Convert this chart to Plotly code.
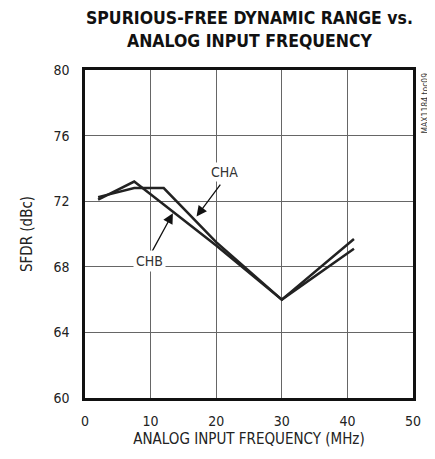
import plotly.graph_objects as go

freq = [2, 7.5, 12, 20, 30, 41]
cha = [72.25, 72.8, 72.8, 69.5, 66.0, 69.1]
chb = [72.1, 73.2, 71.8, 69.3, 66.0, 69.7]
x_ticks = [0, 10, 20, 30, 40, 50]
y_ticks = [60, 64, 68, 72, 76, 80]

FONT = "DejaVu Sans Condensed, Liberation Sans Narrow, Arial Narrow, sans-serif"

fig = go.Figure()
fig.add_trace(go.Scatter(x=freq, y=cha, mode="lines", line=dict(color="#222", width=2.5), name="CHA"))
fig.add_trace(go.Scatter(x=freq, y=chb, mode="lines", line=dict(color="#222", width=2.5), name="CHB"))

fig.add_annotation(x=17.0, y=71.07, ax=20.8, ay=73.1, axref="x", ayref="y",
                   text="", showarrow=True, arrowhead=2, arrowsize=1.6, arrowwidth=1.3, arrowcolor="#111")
fig.add_annotation(x=21.2, y=73.76, text="CHA", showarrow=False, bgcolor="white", borderpad=1,
                   font=dict(size=14, color="#333", family=FONT))
fig.add_annotation(x=13.4, y=71.27, ax=9.9, ay=68.7, axref="x", ayref="y",
                   text="", showarrow=True, arrowhead=2, arrowsize=1.6, arrowwidth=1.3, arrowcolor="#111")
fig.add_annotation(x=9.8, y=68.37, text="CHB", showarrow=False, bgcolor="white", borderpad=2,
                   font=dict(size=14, color="#333", family=FONT))
fig.add_annotation(x=1.0, y=1.0, xref="paper", yref="paper", xanchor="left", yanchor="top",
                   xshift=4, yshift=-1, text="MAX1184 toc09", textangle=-90, showarrow=False,
                   font=dict(size=8.5, color="#333", family=FONT))
fig.add_annotation(x=0.5, y=1, xref="paper", yref="paper", xanchor="center", yanchor="bottom",
                   yshift=17, text="<b>SPURIOUS-FREE DYNAMIC RANGE vs.<br>ANALOG INPUT FREQUENCY</b>",
                   showarrow=False, font=dict(size=17.5, family=FONT, color="#111"))

fig.update_layout(
    width=427, height=451,
    margin=dict(l=77, r=22, t=62, b=61, autoexpand=False),
    paper_bgcolor="white", plot_bgcolor="white",
    showlegend=False,
    font=dict(family=FONT, size=13, color="#222"),
    xaxis=dict(range=[0, 50], tickvals=x_ticks, showgrid=True, gridcolor="#666", gridwidth=1,
               showline=True, linecolor="#111", linewidth=2.5, mirror=True, ticks="",
               zeroline=False,
               title=dict(text="ANALOG INPUT FREQUENCY (MHz)", standoff=6, font=dict(size=15, family=FONT)),
               tickfont=dict(size=14, family=FONT), ticklabelstandoff=8, automargin=False),
    yaxis=dict(range=[60, 80], tickvals=y_ticks, showgrid=True, gridcolor="#666", gridwidth=1,
               showline=True, linecolor="#111", linewidth=2.5, mirror=True, ticks="",
               zeroline=False,
               title=dict(text="SFDR (dBc)", standoff=18, font=dict(size=15, family=FONT)),
               tickfont=dict(size=14, family=FONT), ticklabelstandoff=10, automargin=False),
)

fig.write_html("out.html")
